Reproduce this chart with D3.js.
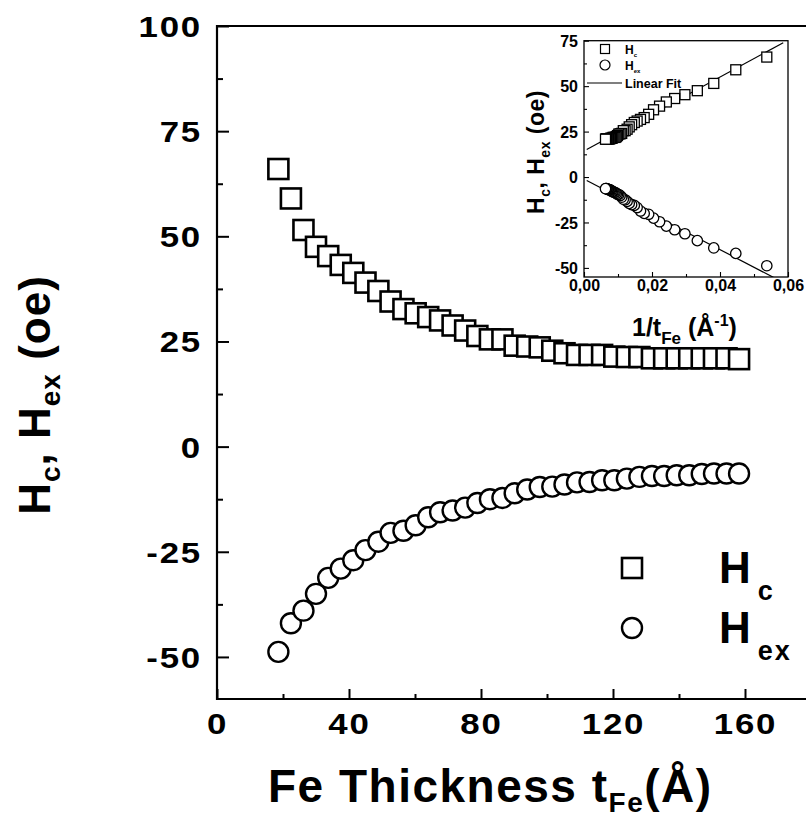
<!DOCTYPE html>
<html><head><meta charset="utf-8">
<script src="https://cdn.jsdelivr.net/npm/d3@7"></script>
<style>
body{margin:0;background:#fff}
svg{display:block}
text{font-family:"Liberation Sans",Arial,Helvetica,sans-serif;font-weight:bold;fill:#000}
</style>
</head><body>
<svg id="chart" width="806" height="820"></svg>
<script>
// ---------------- data ----------------
const thickness = [18.6, 22.4, 26.2, 30.0, 33.7, 37.5, 41.3, 45.0, 48.9, 52.6, 56.5, 60.2, 64.0, 67.6,
  71.4, 75.2, 78.9, 82.7, 86.5, 90.2, 94.0, 97.8, 101.6, 105.3, 109.1, 112.9, 116.7, 120.4,
  124.2, 128.0, 131.8, 135.5, 139.3, 143.1, 146.9, 150.6, 154.4, 158.2];
const hcValues = [66, 59, 51.5, 47.5, 45.3, 43.2, 41.3, 39, 37, 34.5, 32.7, 31.7, 30.8, 30,
  28.8, 27.6, 26.3, 25.5, 25.5, 24, 23.8, 23.6, 22.8, 22.2, 21.8, 21.8, 21.8, 21.4,
  21.3, 21.3, 21, 21, 21, 21, 21, 21, 21, 20.8];
const hexValues = [-48.8, -42, -39, -35, -31.2, -29, -27, -24.6, -22.6, -20.5, -20, -18.7, -16.8, -15.6,
  -15.2, -14.5, -13.4, -12.5, -12.2, -11.1, -10.2, -9.6, -9.5, -9, -8.5, -8.4, -8, -8,
  -7.6, -7.2, -7, -7, -6.8, -6.8, -6.5, -6.4, -6.4, -6.4];
const fitHc = [14.3, 1017];     // intercept, slope (oe per 1/Å)
const fitHex = [-1.1, -971];
const fitRange = [0.0008, 0.0586];

const mainXDomain = [0, 180];
const mainYDomain = [-60, 100];
const mainXTicks = [0, 40, 80, 120, 160];
const mainXMinor = [20, 60, 100, 140];
const mainYTicks = [-50, -25, 0, 25, 50, 75, 100];
const mainYMinor = [-37.5, -12.5, 12.5, 37.5, 62.5, 87.5];

const insetXDomain = [0, 0.06];
const insetYDomain = [-55, 75];
const insetXTicks = [0, 0.02, 0.04, 0.06];
const insetXMinor = [0.01, 0.03, 0.05];
const insetYTicks = [-50, -25, 0, 25, 50, 75];
const insetYMinor = [-37.5, -12.5, 12.5, 37.5, 62.5];

const legendLabels = [["H", "c"], ["H", "ex"]];

// ---------------- main plot ----------------
const svg = d3.select("#chart");
const x = d3.scaleLinear().domain(mainXDomain).range([217, 811]);
const y = d3.scaleLinear().domain(mainYDomain).range([699, 26]);
const plain = d => String(d);

svg.append("path")
  .attr("d", `M${x(mainXDomain[1])},${y(mainYDomain[1])}H${x(0)}V${y(mainYDomain[0])}H${x(mainXDomain[1])}`)
  .attr("fill", "none").attr("stroke", "#000").attr("stroke-width", 2.2);

function styleAxis(g) { g.select(".domain").remove(); g.selectAll("line").attr("stroke", "#000").attr("stroke-width", 2); }

// y axis
svg.append("g").attr("transform", `translate(${x(0)},0)`)
  .call(d3.axisLeft(y).tickValues(mainYMinor).tickSize(-6).tickFormat(""))
  .call(styleAxis);
const gy = svg.append("g").attr("transform", `translate(${x(0)},0)`)
  .call(d3.axisLeft(y).tickValues(mainYTicks).tickSize(-12).tickPadding(15).tickFormat(plain))
  .call(styleAxis);
gy.selectAll("text").attr("font-size", 29).attr("letter-spacing", "1.5px")
  .attr("x", -15 / 1.2).attr("transform", "scale(1.2,1)").attr("dy", "0.36em");

// x axis
svg.append("g").attr("transform", `translate(0,${y(mainYDomain[0])})`)
  .call(d3.axisBottom(x).tickValues(mainXMinor).tickSize(-5).tickFormat(""))
  .call(styleAxis);
const gx = svg.append("g").attr("transform", `translate(0,${y(mainYDomain[0])})`)
  .call(d3.axisBottom(x).tickValues(mainXTicks).tickSize(-10).tickPadding(14).tickFormat(plain))
  .call(styleAxis);
gx.selectAll("text").attr("font-size", 29).attr("letter-spacing", "1.5px")
  .attr("transform", "scale(1.2,1)");

// data markers
const pts = thickness.map((t, i) => ({t, hc: hcValues[i], hex: hexValues[i]}));
svg.append("g").selectAll("rect").data(pts).join("rect")
  .attr("x", d => x(d.t) - 10).attr("y", d => y(d.hc) - 10)
  .attr("width", 20).attr("height", 20)
  .attr("fill", "#fff").attr("stroke", "#000").attr("stroke-width", 2.6);
svg.append("g").selectAll("circle").data(pts).join("circle")
  .attr("cx", d => x(d.t)).attr("cy", d => y(d.hex)).attr("r", 10)
  .attr("fill", "#fff").attr("stroke", "#000").attr("stroke-width", 2.4);

// axis titles
const xt = svg.append("text").attr("x", 268).attr("y", 802).attr("font-size", 46).attr("letter-spacing", "1.5px");
xt.append("tspan").text("Fe Thickness t");
xt.append("tspan").attr("font-size", 28).attr("dy", 10).text("Fe");
xt.append("tspan").attr("font-size", 46).attr("dy", -10).text("(Å)");

const yt = svg.append("text").attr("transform", "translate(50,395) rotate(-90)")
  .attr("text-anchor", "middle").attr("font-size", 44).attr("letter-spacing", "1px");
yt.append("tspan").text("H");
yt.append("tspan").attr("font-size", 28).attr("dy", 10).text("c");
yt.append("tspan").attr("dy", -10).text(", H");
yt.append("tspan").attr("font-size", 28).attr("dy", 10).text("ex");
yt.append("tspan").attr("dy", -10).text(" (oe)");

// main legend
const leg = svg.append("g");
leg.append("rect").attr("x", 622).attr("y", 558).attr("width", 20).attr("height", 20)
  .attr("fill", "#fff").attr("stroke", "#000").attr("stroke-width", 2.6);
leg.append("circle").attr("cx", 632).attr("cy", 628).attr("r", 10)
  .attr("fill", "#fff").attr("stroke", "#000").attr("stroke-width", 2.4);
legendLabels.forEach((lab, i) => {
  const t = leg.append("text").attr("x", 719).attr("y", 583 + i * 60).attr("font-size", 44);
  t.append("tspan").text(lab[0]);
  t.append("tspan").attr("font-size", 27).attr("dx", 7).attr("dy", 17).attr("letter-spacing", "2px").text(lab[1]);
});

// ---------------- inset ----------------
const ix = d3.scaleLinear().domain(insetXDomain).range([584, 788]);
const iy = d3.scaleLinear().domain(insetYDomain).range([277, 40.7]);
const inset = svg.append("g");
inset.append("rect").attr("x", ix(0)).attr("y", iy(insetYDomain[1]))
  .attr("width", ix(insetXDomain[1]) - ix(0)).attr("height", iy(insetYDomain[0]) - iy(insetYDomain[1]))
  .attr("fill", "#fff").attr("stroke", "#000").attr("stroke-width", 1.3);

function styleInset(g) { g.select(".domain").remove(); g.selectAll("line").attr("stroke", "#000").attr("stroke-width", 1.1); }
inset.append("g").attr("transform", `translate(${ix(0)},0)`)
  .call(d3.axisLeft(iy).tickValues(insetYMinor).tickSize(-3).tickFormat("")).call(styleInset);
const igy = inset.append("g").attr("transform", `translate(${ix(0)},0)`)
  .call(d3.axisLeft(iy).tickValues(insetYTicks).tickSize(-5).tickPadding(6).tickFormat(plain))
  .call(styleInset);
igy.selectAll("text").attr("font-size", 16).attr("dy", "0.36em");
inset.append("g").attr("transform", `translate(0,${iy(insetYDomain[0])})`)
  .call(d3.axisBottom(ix).tickValues(insetXMinor).tickSize(-3).tickFormat("")).call(styleInset);
const igx = inset.append("g").attr("transform", `translate(0,${iy(insetYDomain[0])})`)
  .call(d3.axisBottom(ix).tickValues(insetXTicks).tickSize(-5).tickPadding(3)
    .tickFormat(d => d.toFixed(2).replace(".", ",")))
  .call(styleInset);
igx.selectAll("text").attr("font-size", 16);

// clip for fit lines
svg.append("defs").append("clipPath").attr("id", "insetClip").append("rect")
  .attr("x", ix(0)).attr("y", iy(insetYDomain[1]))
  .attr("width", ix(insetXDomain[1]) - ix(0)).attr("height", iy(insetYDomain[0]) - iy(insetYDomain[1]));
const line = d3.line().x(d => ix(d[0])).y(d => iy(d[1]));
[fitHc, fitHex].forEach(f => {
  inset.append("path").attr("clip-path", "url(#insetClip)")
    .attr("d", line(fitRange.map(v => [v, f[0] + f[1] * v])))
    .attr("fill", "none").attr("stroke", "#000").attr("stroke-width", 1.2);
});

inset.append("g").selectAll("rect").data(pts).join("rect")
  .attr("x", d => ix(1 / d.t) - 5).attr("y", d => iy(d.hc) - 5)
  .attr("width", 10).attr("height", 10)
  .attr("fill", "#fff").attr("stroke", "#000").attr("stroke-width", 1.3);
inset.append("g").selectAll("circle").data(pts).join("circle")
  .attr("cx", d => ix(1 / d.t)).attr("cy", d => iy(d.hex)).attr("r", 5.2)
  .attr("fill", "#fff").attr("stroke", "#000").attr("stroke-width", 1.3);

// inset legend
inset.append("rect").attr("x", 600.5).attr("y", 44.5).attr("width", 9).attr("height", 9)
  .attr("fill", "#fff").attr("stroke", "#000").attr("stroke-width", 1.2);
inset.append("circle").attr("cx", 605).attr("cy", 65).attr("r", 5)
  .attr("fill", "#fff").attr("stroke", "#000").attr("stroke-width", 1.2);
inset.append("line").attr("x1", 587).attr("x2", 622).attr("y1", 83).attr("y2", 83)
  .attr("stroke", "#000").attr("stroke-width", 1.2);
legendLabels.forEach((lab, i) => {
  const t = inset.append("text").attr("x", 625).attr("y", 54 + i * 16).attr("font-size", 12);
  t.append("tspan").text(lab[0]);
  t.append("tspan").attr("font-size", 6).attr("dy", 3).text(lab[1]);
});
inset.append("text").attr("x", 625).attr("y", 87.5).attr("font-size", 12.5).text("Linear Fit");

// inset titles
const iyt = inset.append("text").attr("transform", "translate(544,152) rotate(-90)")
  .attr("text-anchor", "middle").attr("font-size", 23).attr("letter-spacing", "0.5px");
iyt.append("tspan").text("H");
iyt.append("tspan").attr("font-size", 14).attr("dy", 6).text("c");
iyt.append("tspan").attr("dy", -6).text(", H");
iyt.append("tspan").attr("font-size", 14).attr("dy", 6).text("ex");
iyt.append("tspan").attr("dy", -6).text(" (oe)");

const ixt = inset.append("text").attr("x", 632).attr("y", 336).attr("font-size", 25);
ixt.append("tspan").text("1/t");
ixt.append("tspan").attr("font-size", 17).attr("dy", 8).text("Fe");
ixt.append("tspan").attr("font-size", 25).attr("dy", -8).text(" (Å");
ixt.append("tspan").attr("font-size", 16).attr("dy", -10).text("-1");
ixt.append("tspan").attr("font-size", 25).attr("dy", 10).text(")");
</script>
</body></html>
